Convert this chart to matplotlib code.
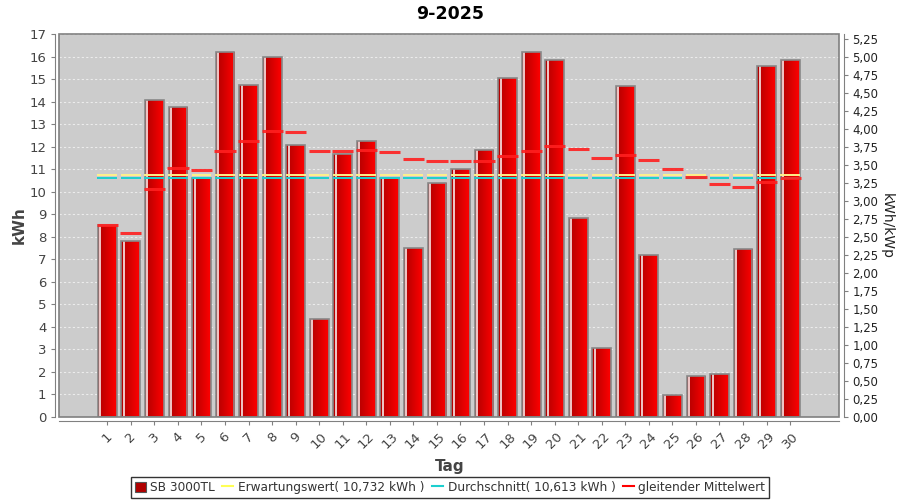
import matplotlib
matplotlib.use('Agg')
import matplotlib.pyplot as plt
import numpy as np
from matplotlib.colors import LinearSegmentedColormap
from matplotlib.patches import Rectangle
from matplotlib.lines import Line2D

# daily yield, September 2025
days = list(range(1, 31))
kwh = [8.52, 7.80, 14.10, 13.78, 10.60, 16.20, 14.75, 16.00, 12.10, 4.35,
       11.70, 12.25, 10.60, 7.50, 10.40, 11.00, 11.85, 15.05, 16.20, 15.85,
       8.85, 3.05, 14.70, 7.20, 0.95, 1.80, 1.90, 7.45, 15.60, 15.85]
# gleitender Mittelwert
mittel = [8.52, 8.16, 10.14, 11.05, 10.96, 11.83, 12.25, 12.72, 12.65, 11.82,
          11.81, 11.85, 11.75, 11.45, 11.38, 11.35, 11.38, 11.59, 11.83, 12.03,
          11.88, 11.48, 11.62, 11.43, 11.01, 10.66, 10.34, 10.23, 10.42, 10.60]
erwartung = 10.732
durchschnitt = 10.613
kwp = 3.2

fig = plt.figure(figsize=(9, 5), dpi=100)
ax = fig.add_axes([0.0661, 0.1666, 0.8665, 0.7648])
ax.set_facecolor('#cccccc')

# bars with a left-to-right red gradient
red_cmap = LinearSegmentedColormap.from_list('rg', ['#b00000', '#ff0000'])
grad = np.linspace(0, 1, 64).reshape(1, -1)
w = 0.8
bars = ax.bar(days, kwh, width=w, facecolor='none', edgecolor='#888888',
              lw=1.2, zorder=3)
for b in bars:
    x0 = b.get_x()
    h = b.get_height()
    im = ax.imshow(grad, extent=[x0, x0 + w, 0, h], aspect='auto',
                   cmap=red_cmap, zorder=2.5, interpolation='bilinear')
    im.set_clip_path(b)
    ax.vlines(x0 + 0.13 * w, 0, h, color='white', lw=1.1, zorder=2.6)

# per-day dashes
d = np.array(days)
ax.hlines([erwartung] * len(days), d - 0.42, d + 0.42, color='#fff08a', lw=1.4, zorder=4)
ax.hlines([durchschnitt] * len(days), d - 0.42, d + 0.42, color='#1ccfcf', lw=1.4, zorder=4)
ax.hlines(mittel, d - 0.45, d + 0.45, color='#ff2020', lw=2.2, alpha=0.9, zorder=5)

ax.set_xlim(-1.03, 32.09)
ax.set_ylim(0, 17)
ax.set_yticks(range(0, 18))
ax.set_xticks(days)
ax.grid(axis='y', color='#ececec', lw=0.8, ls=(0, (2, 2)))
ax.set_axisbelow(True)

for s in ['top', 'right']:
    ax.spines[s].set_visible(False)
for s in ['left', 'bottom']:
    ax.spines[s].set_position(('outward', 3))
    ax.spines[s].set_color('#808080')
ax.add_patch(Rectangle((0, 0), 1, 1, transform=ax.transAxes, fill=False,
                       edgecolor='#808080', lw=1.2, zorder=6, clip_on=False))
ax.set_ylabel('kWh', fontsize=11, fontweight='bold', color='#444444', labelpad=2)
ax.set_xlabel('Tag', fontsize=11, fontweight='bold', color='#444444', labelpad=6)

axt = ax.twinx()
axt.set_ylim(0, 17 / kwp)
rticks = np.arange(0, 5.26, 0.25)
axt.set_yticks(rticks)
axt.set_yticklabels([('%.2f' % t).replace('.', ',') for t in rticks])
for s in ['top', 'left', 'bottom']:
    axt.spines[s].set_visible(False)
axt.spines['right'].set_position(('outward', 3))
axt.spines['right'].set_color('#808080')
axt.tick_params(colors='#222222', labelsize=8.5, length=3, width=0.8)
axt.tick_params(axis='y', color='#808080')
axt.set_ylabel('kWh/kWp', fontsize=10, color='#222222', rotation=270, labelpad=11)

ax.tick_params(colors='#444444', labelsize=9.5, length=3, width=0.8)
ax.tick_params(axis='x', color='#808080', labelrotation=45)
ax.tick_params(axis='y', color='#808080')

fig.suptitle('9-2025', fontsize=12.5, fontweight='bold', y=0.99)

handles = [Rectangle((0, 0), 1, 1, facecolor='#b00000', edgecolor='#555555', lw=0.8),
           Line2D([], [], color='#ffff55', lw=1.5),
           Line2D([], [], color='#1ccfcf', lw=1.5),
           Line2D([], [], color='#ff0000', lw=1.5)]
labels = ['SB 3000TL', 'Erwartungswert( 10,732 kWh )',
          'Durchschnitt( 10,613 kWh )', 'gleitender Mittelwert']
leg = fig.legend(handles, labels, loc='center', bbox_to_anchor=(0.5, 0.025),
                 ncol=4, fontsize=8.7, frameon=True, fancybox=False,
                 edgecolor='black', handlelength=0.9, handleheight=0.9,
                 handletextpad=0.4, columnspacing=0.6, borderpad=0.3,
                 borderaxespad=0)
leg.get_frame().set_linewidth(1.0)
for t in leg.get_texts():
    t.set_color('#333333')

plt.savefig('out.png', dpi=100)
